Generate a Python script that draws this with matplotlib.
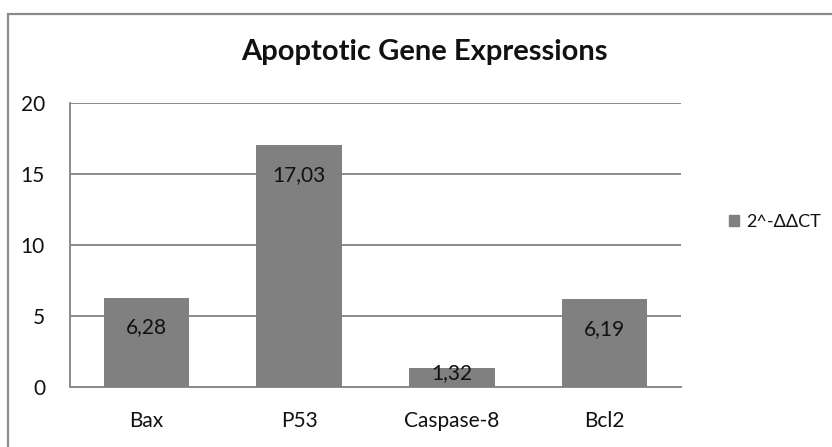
import matplotlib
matplotlib.use("Agg")
import matplotlib.pyplot as plt
from matplotlib.patches import Rectangle, Patch

genes = ["Bax", "P53", "Caspase-8", "Bcl2"]
fold_change = [6.28, 17.03, 1.32, 6.19]
value_labels = ["6,28", "17,03", "1,32", "6,19"]
series_name = "2^-ΔΔCT"
y_ticks = [0, 5, 10, 15, 20]

plt.rcParams["font.family"] = ["Lato", "DejaVu Sans"]

BAR_GRAY = "#808080"
LINE_GRAY = "#8a8a8a"
TEXT = "#111111"

fig = plt.figure(figsize=(8.32, 4.47), dpi=100)
ax = fig.add_axes([70 / 832, 1 - 387 / 447, 611 / 832, (387 - 102.7) / 447])

x = list(range(len(genes)))
ax.bar(x, fold_change, width=0.56, color=BAR_GRAY, zorder=3)

# labels sit inside the top of each bar; short bars get them clamped up
for xi, v, lab in zip(x, fold_change, value_labels):
    ypos = max(v - 2.1, 1.0)
    ax.text(xi, ypos, lab, ha="center", va="center", fontsize=15,
            color=TEXT, zorder=4)

ax.set_xlim(-0.5, len(genes) - 0.5)
ax.set_ylim(0, 20)
ax.set_yticks(y_ticks)
ax.set_xticks(x)
ax.set_xticklabels(genes, fontsize=15, color=TEXT)
ax.set_yticklabels([str(t) for t in y_ticks], fontsize=15, color=TEXT)
ax.tick_params(axis="both", length=0)
ax.tick_params(axis="y", pad=18)
ax.tick_params(axis="x", pad=17)

ax.grid(axis="y", color=LINE_GRAY, linewidth=1.4, zorder=0)
for side in ("top", "right"):
    ax.spines[side].set_visible(False)
for side in ("left", "bottom"):
    ax.spines[side].set_color(LINE_GRAY)
    ax.spines[side].set_linewidth(1.4)

fig.text(424 / 832, 1 - 52 / 447, "Apoptotic Gene Expressions",
         ha="center", va="center", fontsize=21, fontweight="bold", color=TEXT)

fig.legend(handles=[Patch(color=BAR_GRAY, label=series_name)],
           loc="center left", bbox_to_anchor=(729 / 832, 1 - 222 / 447),
           frameon=False, fontsize=13, handlelength=0.55, handleheight=0.55,
           handletextpad=0.4, borderpad=0, borderaxespad=0, labelcolor=TEXT)

# outer chart border (cut off at the right and bottom in the reference)
fig.patches.append(Rectangle((8 / 832, -0.1), 1.2, 1 - 14 / 447 + 0.1,
                             transform=fig.transFigure, fill=False,
                             edgecolor="#8c8c8c", linewidth=1.6))

fig.savefig("out.png", dpi=100)
